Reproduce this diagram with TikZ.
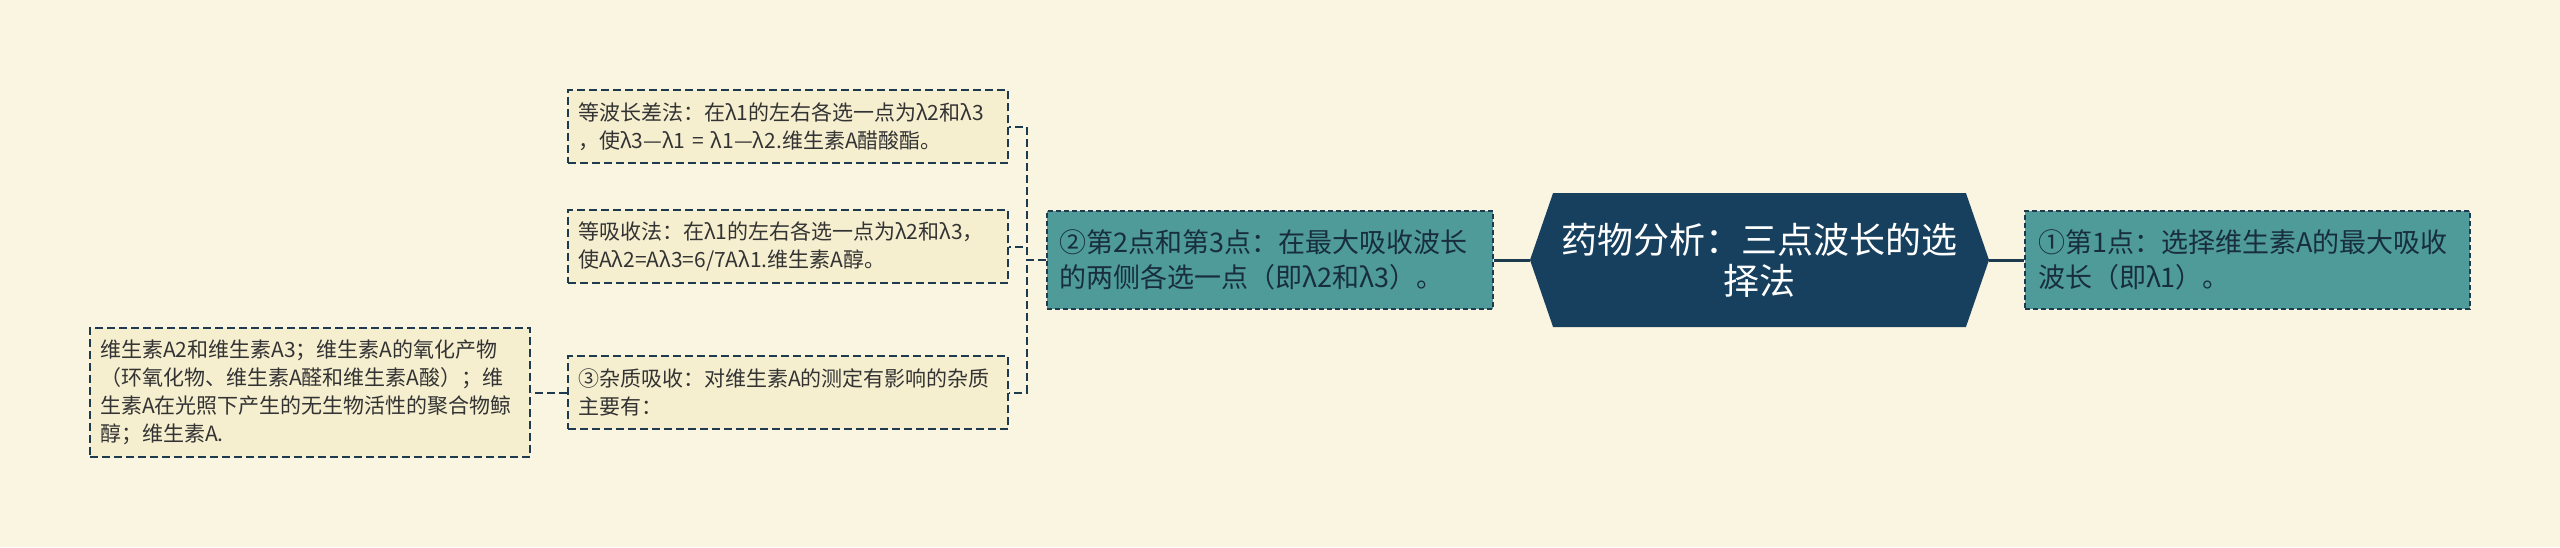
\documentclass[tikz,border=0pt]{standalone}
\usepackage{fontspec}
\setmainfont{Noto Sans CJK SC}
\usepackage{tikz}
\usetikzlibrary{shapes.symbols}
\definecolor{fond}{HTML}{FAF5E0}
\definecolor{papier}{HTML}{F5EFD0}
\definecolor{encre}{HTML}{1E3A4E}
\definecolor{sarcelle}{HTML}{4E9B99}
\definecolor{marine}{HTML}{17405E}
\definecolor{texte}{HTML}{333333}
\tikzstyle{feuille} = [draw=encre,line width=1pt,dash pattern=on 4pt off 2pt,fill=papier,text=texte,font=\fontsize{10.5}{14}\selectfont,align=left,text width=210pt,inner xsep=5pt,inner ysep=0pt,minimum height=36.5pt]
\tikzstyle{branche} = [draw=encre,line width=1pt,dash pattern=on 2.5pt off 1.5pt,fill=sarcelle,text=encre!80!black,font=\fontsize{13.5}{17.5}\selectfont,align=left,text width=210pt,inner xsep=6.5pt,inner ysep=0pt,minimum height=49pt]
\tikzstyle{titre} = [signal,signal to=west and east,signal pointer angle=142,fill=marine,text=white,font=\fontsize{18}{20.5}\selectfont,align=center,minimum width=229.5pt,minimum height=67pt,inner sep=0pt]
\tikzstyle{lien} = [draw=encre,line width=1pt,dash pattern=on 4pt off 2pt]
\tikzstyle{lien2} = [draw=encre,line width=1.5pt]

\begin{document}
\begin{tikzpicture}[x=0.5pt,y=-0.5pt]
	\path[fill=fond,use as bounding box] (0,0) rectangle (2560,547);

	\node[titre] (T) at (1759.5,260) {药物分析：三点波长的选\\择法};

	\node[branche,text width=209.5pt] (P1) at (2247.5,260) {①第1点：选择维生素A的最大吸收\\波长（即λ1）。};
	\node[branche] (P2) at (1269.5,260) {②第2点和第3点：在最大吸收波长\\的两侧各选一点（即λ2和λ3）。};

	\node[feuille] (L1) at (788,126.5) {等波长差法：在λ1的左右各选一点为λ2和λ3\\，使λ3—λ1 = λ1—λ2.维生素A醋酸酯。};
	\node[feuille] (L2) at (788,246.5) {等吸收法：在λ1的左右各选一点为λ2和λ3，\\使Aλ2=Aλ3=6/7Aλ1.维生素A醇。};
	\node[feuille] (L3) at (788,392.5) {③杂质吸收：对维生素A的测定有影响的杂质\\主要有：};

	\node[feuille,minimum height=64.5pt] (I) at (310,392.5) {维生素A2和维生素A3；维生素A的氧化产物\\（环氧化物、维生素A醛和维生素A酸）；维\\生素A在光照下产生的无生物活性的聚合物鲸\\醇；维生素A.};

	\draw[lien2] (T.east) -- (P1.west);
	\draw[lien2] (P2.east) -- (T.west);

	\draw[lien] (P2.west) -- ++(-19,0) |- (L1.east);
	\draw[lien] (P2.west) -- ++(-19,0) |- (L2.east);
	\draw[lien] (P2.west) -- ++(-19,0) |- (L3.east);

	\draw[lien] (L3.west) -- (I.east);
\end{tikzpicture}
\end{document}
